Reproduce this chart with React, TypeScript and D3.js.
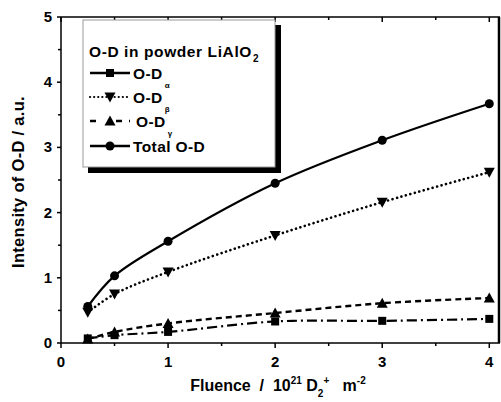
import React from "react";
import * as d3 from "d3";

const fluence = [0.25, 0.5, 1, 2, 3, 4];
const alphaVals = [0.07, 0.12, 0.17, 0.33, 0.34, 0.37];
const betaVals = [0.47, 0.75, 1.09, 1.65, 2.16, 2.62];
const gammaVals = [0.06, 0.17, 0.3, 0.46, 0.61, 0.69];
const totalVals = [0.56, 1.03, 1.56, 2.45, 3.11, 3.67];
const xTicks = [0, 1, 2, 3, 4];
const yTicks = [0, 1, 2, 3, 4, 5];
const xMinor = [0.5, 1.5, 2.5, 3.5];
const yMinor = [0.5, 1.5, 2.5, 3.5, 4.5];

const W = 501, H = 402;
const L = 61, R = 500, T = 17, B = 343;
const FONT = "'Liberation Sans', Arial, sans-serif";

function Marker({ type, x, y }: { type: string; x: number; y: number }) {
  if (type === "circle") return <circle cx={x} cy={y} r={4.5} fill="#000" />;
  if (type === "square") return <rect x={x - 4} y={y - 4} width={8} height={8} fill="#000" />;
  if (type === "down") return <path d={`M${x - 5.5},${y - 4.5}L${x + 5.5},${y - 4.5}L${x},${y + 5.5}Z`} fill="#000" />;
  return <path d={`M${x - 5.5},${y + 4.5}L${x + 5.5},${y + 4.5}L${x},${y - 5.5}Z`} fill="#000" />;
}

export default function App() {
  const x = d3.scaleLinear().domain([0, 4.1]).range([L, R]);
  const y = d3.scaleLinear().domain([0, 5]).range([B, T]);
  const line = d3
    .line<[number, number]>()
    .x((d) => x(d[0]))
    .y((d) => y(d[1]))
    .curve(d3.curveCatmullRom.alpha(0.5));

  const series = [
    { name: "α", vals: alphaVals, marker: "square", dash: "10,4,2,4", cap: "butt", w: 2.2 },
    { name: "β", vals: betaVals, marker: "down", dash: "0.1,4.5", cap: "round", w: 2.6 },
    { name: "γ", vals: gammaVals, marker: "up", dash: "6,4", cap: "butt", w: 2.4 },
    { name: "total", vals: totalVals, marker: "circle", dash: "", cap: "butt", w: 2.2 },
  ];

  const legendRows = [
    { sub: "α", marker: "square", dash: "", cap: "butt", y: 73 },
    { sub: "β", marker: "down", dash: "0.1,4", cap: "round", y: 97 },
    { sub: "γ", marker: "up", dash: "6,7", cap: "butt", y: 121 },
    { sub: "", marker: "circle", dash: "", cap: "butt", y: 146 },
  ];

  return (
    <svg width={W} height={H} style={{ position: "absolute", left: 0, top: 0, background: "#fff" }} fontFamily={FONT}>
      <rect width={W} height={H} fill="#fff" />
      {series.map((s) => (
        <g key={s.name}>
          <path
            d={line(fluence.map((f, i) => [f, s.vals[i]] as [number, number])) || ""}
            fill="none"
            stroke="#000"
            strokeWidth={s.w}
            strokeDasharray={s.dash || undefined}
            strokeLinecap={s.cap as any}
          />
          {fluence.map((f, i) => (
            <Marker key={i} type={s.marker} x={x(f)} y={y(s.vals[i])} />
          ))}
        </g>
      ))}

      <line x1={L} y1={T} x2={R} y2={T} stroke="#000" strokeWidth={1.5} />
      <line x1={L} y1={T} x2={L} y2={B} stroke="#000" strokeWidth={1.5} />
      <line x1={L} y1={B} x2={R} y2={B} stroke="#000" strokeWidth={1.5} />
      <line x1={R - 1} y1={T} x2={R - 1} y2={B} stroke="#000" strokeWidth={2.5} />

      {xTicks.map((t) => (
        <g key={"x" + t}>
          <line x1={x(t)} x2={x(t)} y1={B} y2={B + 5} stroke="#000" strokeWidth={1.5} />
          <line x1={x(t)} x2={x(t)} y1={T} y2={T + 5} stroke="#000" strokeWidth={1.5} />
          <text x={x(t)} y={B + 24} textAnchor="middle" fontSize={15} fontWeight="bold">{t}</text>
        </g>
      ))}
      {xMinor.map((t) => (
        <g key={"xm" + t}>
          <line x1={x(t)} x2={x(t)} y1={B} y2={B + 3} stroke="#000" strokeWidth={1.5} />
          <line x1={x(t)} x2={x(t)} y1={T} y2={T + 3} stroke="#000" strokeWidth={1.5} />
        </g>
      ))}
      {yTicks.map((t) => (
        <g key={"y" + t}>
          <line x1={L - 4} x2={L} y1={y(t)} y2={y(t)} stroke="#000" strokeWidth={1.5} />
          <text x={L - 9} y={y(t) + 5} textAnchor="end" fontSize={15} fontWeight="bold">{t}</text>
        </g>
      ))}
      {yMinor.map((t) => (
        <line key={"ym" + t} x1={L - 3} x2={L} y1={y(t)} y2={y(t)} stroke="#000" strokeWidth={1.5} />
      ))}

      <text x={278} y={391} textAnchor="middle" fontSize={16} fontWeight="bold" style={{ whiteSpace: "pre" }}>
        {"Fluence  /  10"}
        <tspan dy={-7} fontSize={10}>21</tspan>
        <tspan dy={7}>{" D"}</tspan>
        <tspan dy={6} fontSize={10}>2</tspan>
        <tspan dy={-13} fontSize={10}>+</tspan>
        <tspan dy={7}>{"   m"}</tspan>
        <tspan dy={-7} fontSize={10}>-2</tspan>
      </text>
      <text transform={`translate(24,${(T + B) / 2 + 2}) rotate(-90)`} textAnchor="middle" fontSize={16.5} fontWeight="bold" letterSpacing={0.3}>
        Intensity of O-D / a.u.
      </text>

      <rect x={88} y={25} width={193} height={148} fill="#000" />
      <rect x={83} y={20} width={192} height={147} fill="#fff" stroke="#999" strokeWidth={1} />
      <text x={89} y={57} fontSize={15.5} fontWeight="bold" letterSpacing={0.6}>
        O-D in powder LiAlO
        <tspan dx={1} dy={5} fontSize={10}>2</tspan>
      </text>
      {legendRows.map((r, i) => (
        <g key={i}>
          <line
            x1={90}
            x2={130}
            y1={r.y}
            y2={r.y}
            stroke="#000"
            strokeWidth={i === 1 ? 2.2 : 2.4}
            strokeDasharray={r.dash || undefined}
            strokeLinecap={r.cap as any}
          />
          {i === 2 && <rect x={100} y={r.y - 4} width={14} height={8} fill="#fff" />}
          <Marker type={r.marker} x={110} y={r.y} />
          <text x={i === 2 ? 136 : 133} y={r.y + 5.5} fontSize={15.5} fontWeight="bold" letterSpacing={0.4}>
            {r.sub ? "O-D" : "Total O-D"}
            {r.sub && <tspan dx={2} dy={9} fontSize={8}>{r.sub}</tspan>}
          </text>
        </g>
      ))}
    </svg>
  );
}
